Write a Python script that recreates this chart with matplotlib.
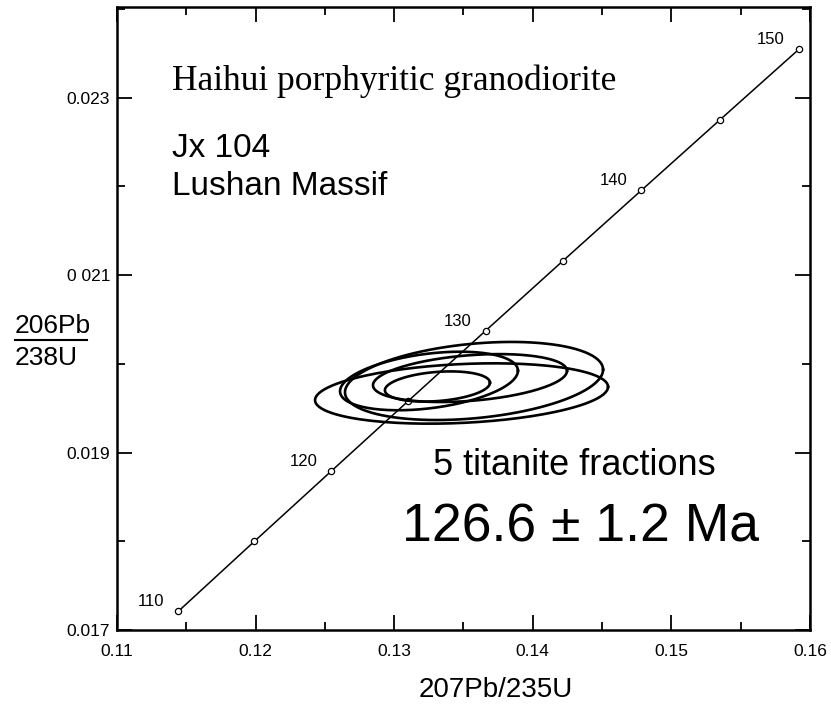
"""
Concordia diagram for Jx 104 titanite fractions (Haihui porphyritic granodiorite).
"""
import numpy as np
import matplotlib
matplotlib.use('Agg')
import matplotlib.pyplot as plt
from matplotlib.lines import Line2D
from matplotlib.ticker import MultipleLocator, FixedLocator, FixedFormatter

# concordia points (age in Ma, 207Pb/235U, 206Pb/238U)
ages = [110, 115, 120, 125, 130, 135, 140, 145, 150]
conc_x = [0.11442, 0.11992, 0.12545, 0.13101, 0.13659, 0.14220, 0.14784, 0.15350, 0.15919]
conc_y = [0.017210, 0.018000, 0.018789, 0.019580, 0.020371, 0.021163, 0.021955, 0.022748, 0.023542]
labelled_ages = [110, 120, 130, 140, 150]

# error ellipses of the 5 titanite fractions: centre, half-extent, correlation
ell_cx = [0.13486, 0.13576, 0.13547, 0.13312, 0.13251]
ell_cy = [0.019665, 0.019806, 0.019839, 0.019744, 0.019806]
ell_sx = [0.01057, 0.00931, 0.00700, 0.00379, 0.00642]
ell_sy = [0.000340, 0.000440, 0.000270, 0.000170, 0.000330]
ell_rho = [0.22, 0.29, 0.30, 0.25, 0.35]

x_ticks = [0.11, 0.12, 0.13, 0.14, 0.15, 0.16]
x_ticklabels = ['0.11', '0.12', '0.13', '0.14', '0.15', '0.16']
y_ticks = [0.017, 0.019, 0.021, 0.023]
y_ticklabels = ['0.017', '0.019', '0 021', '0.023']

SANS = 'Liberation Sans'
SERIF = 'Liberation Serif'


def ellipse_path(cx, cy, sx, sy, rho, n=200):
    t = np.linspace(0, 2 * np.pi, n)
    x = cx + sx * np.cos(t)
    y = cy + sy * (rho * np.cos(t) + np.sqrt(1 - rho ** 2) * np.sin(t))
    return x, y


fig = plt.figure(figsize=(8.31, 7.07), dpi=100)
ax = fig.add_axes([0.1408, 0.1089, 0.8339, 0.8812])

# concordia
ax.plot(conc_x, conc_y, color='black', lw=1.1, zorder=2)
ax.plot(conc_x, conc_y, 'o', ms=4.5, mfc='white', mec='black', mew=0.9, zorder=3)
for age, x, y in zip(ages, conc_x, conc_y):
    if age in labelled_ages:
        ax.annotate(str(age), (x, y), xytext=(-10, 7), textcoords='offset points',
                    ha='right', va='center', fontsize=12, family=SANS)

# ellipses
for cx, cy, sx, sy, r in zip(ell_cx, ell_cy, ell_sx, ell_sy, ell_rho):
    ex, ey = ellipse_path(cx, cy, sx, sy, r)
    ax.plot(ex, ey, color='black', lw=1.9, zorder=4)

ax.set_xlim(0.11, 0.16)
ax.set_ylim(0.017, 0.02402)

ax.xaxis.set_major_locator(FixedLocator(x_ticks))
ax.xaxis.set_major_formatter(FixedFormatter(x_ticklabels))
ax.xaxis.set_minor_locator(MultipleLocator(0.005))
ax.yaxis.set_major_locator(FixedLocator(y_ticks))
ax.yaxis.set_major_formatter(FixedFormatter(y_ticklabels))
ax.yaxis.set_minor_locator(MultipleLocator(0.001))

ax.tick_params(which='both', direction='in', top=True, right=True, width=1.3, colors='black')
ax.tick_params(which='major', length=11)
ax.tick_params(which='minor', length=6)
ax.tick_params(axis='x', which='major', pad=10, labelsize=12.5)
ax.tick_params(axis='y', which='major', pad=5, labelsize=12.5)
for lab in ax.get_xticklabels() + ax.get_yticklabels():
    lab.set_family(SANS)
for sp in ax.spines.values():
    sp.set_linewidth(1.8)

# texts inside the plot
ax.text(0.0794, 0.8668, 'Haihui porphyritic granodiorite', transform=ax.transAxes,
        family=SERIF, fontsize=25.5, va='baseline')
ax.text(0.0794, 0.7592, 'Jx 104', transform=ax.transAxes,
        family=SANS, fontsize=24, va='baseline')
ax.text(0.0794, 0.6982, 'Lushan Massif', transform=ax.transAxes,
        family=SANS, fontsize=24, va='baseline')
ax.text(0.456, 0.2488, '5 titanite fractions', transform=ax.transAxes,
        family=SANS, fontsize=26, va='baseline')
ax.text(0.4113, 0.1413, '126.6 \u00b1 1.2 Ma', transform=ax.transAxes,
        family=SANS, fontsize=38.5, va='baseline')

# axis labels
fig.text(0.596, 0.014, '207Pb/235U', family=SANS, fontsize=20, ha='center', va='baseline')
fig.text(0.018, 0.529, '206Pb', family=SANS, fontsize=19, va='baseline')
fig.add_artist(Line2D([0.018, 0.105], [0.519, 0.519], color='black', lw=1.5,
                      transform=fig.transFigure))
fig.text(0.018, 0.4837, '238U', family=SANS, fontsize=19, va='baseline')

plt.savefig('out.png', dpi=100)
plt.close()
